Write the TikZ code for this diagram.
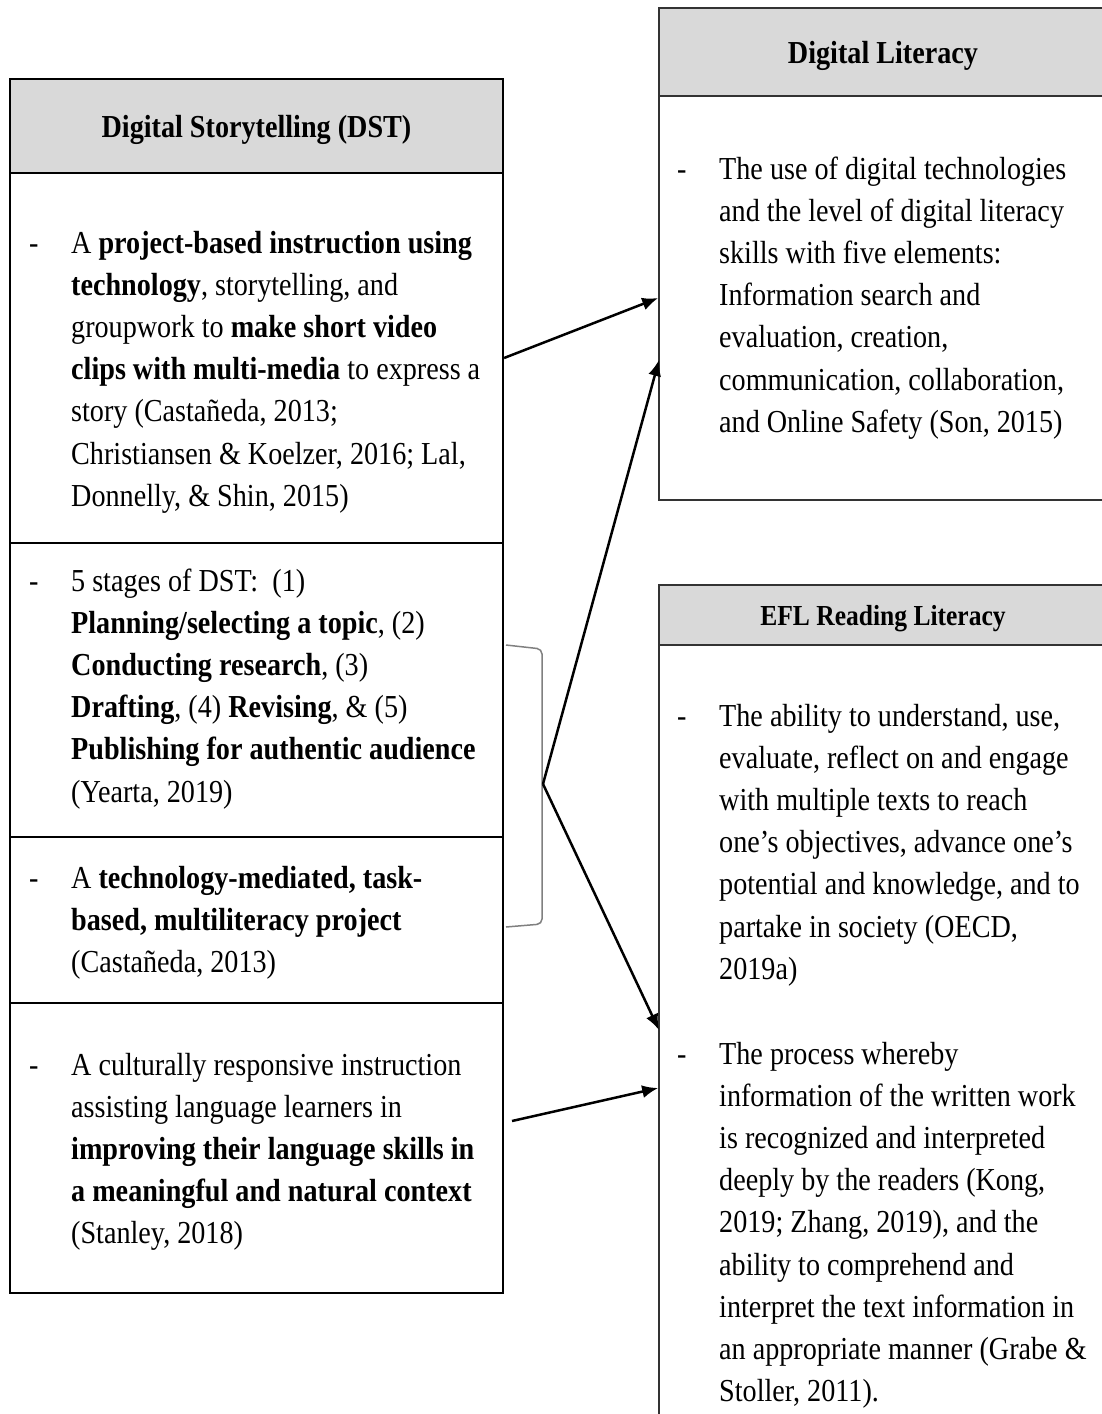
\documentclass[tikz,border=0pt]{standalone}
\usepackage{fontspec}
\setmainfont[FakeStretch=0.88]{Liberation Serif}
\usetikzlibrary{arrows.meta, calc}

\definecolor{headgray}{HTML}{D9D9D9}

\begin{document}
\begin{tikzpicture}[
      x=1pt, y=-1pt,
      body/.style={font=\fontsize{32}{42.2}\selectfont},
      lbox/.style={rectangle, draw=black, line width=2.2pt, inner sep=0pt,
        minimum width=493pt},
      rbox/.style={rectangle, draw=black!80, line width=1.6pt, inner sep=0pt,
        minimum width=448pt},
      head/.style={fill=headgray, text depth=0pt, font=\fontsize{32}{38}\selectfont\bfseries},
      txt/.style={body, anchor=base west, align=left, inner sep=0pt},
      dashmark/.style={body, anchor=base west, inner sep=0pt},
      arrow/.style={-{Latex[length=16pt, width=13pt]}, line width=2.5pt},
      brace/.style={draw=black!50, line width=1.5pt, rounded corners=5pt}
    ]
    \clip (0,0) rectangle (1102,1414);
    \fill[white] (0,0) rectangle (1102,1414);

    % left column
    \node[lbox, head, minimum height=94pt] (dst-head) at (256.5,126) {Digital Storytelling (DST)};
    \node[lbox, minimum height=370pt] (dst-a) at (256.5,358) {};
    \node[lbox, minimum height=294pt] (dst-b) at (256.5,690) {};
    \node[lbox, minimum height=166pt] (dst-c) at (256.5,920) {};
    \node[lbox, minimum height=290pt] (dst-d) at (256.5,1148) {};

    % text nodes are placed by the baseline of their last line
    \node[dashmark] (dst-a-dash) at (29,253) {-};
    \node[txt] (dst-a-txt) at (71,506.2) {A \textbf{project-based instruction using}\\
      \textbf{technology}, storytelling, and\\
      groupwork to \textbf{make short video}\\
      \textbf{clips with multi-media} to express a\\
      story (Castañeda, 2013;\\
      Christiansen \& Koelzer, 2016; Lal,\\
      Donnelly, \& Shin, 2015)};
    \node[dashmark] (dst-b-dash) at (29,591) {-};
    \node[txt] (dst-b-txt) at (71,802) {5 stages of DST:~~(1)\\
      \textbf{Planning/selecting a topic}, (2)\\
      \textbf{Conducting research}, (3)\\
      \textbf{Drafting}, (4) \textbf{Revising}, \& (5)\\
      \textbf{Publishing for authentic audience}\\
      (Yearta, 2019)};
    \node[dashmark] (dst-c-dash) at (29,888) {-};
    \node[txt] (dst-c-txt) at (71,972.4) {A \textbf{technology-mediated, task-}\\
      \textbf{based, multiliteracy project}\\
      (Castañeda, 2013)};
    \node[dashmark] (dst-d-dash) at (29,1075) {-};
    \node[txt] (dst-d-txt) at (71,1243.8) {A culturally responsive instruction\\
      assisting language learners in\\
      \textbf{improving their language skills in}\\
      \textbf{a meaningful and natural context}\\
      (Stanley, 2018)};

    % right column
    \node[rbox, head, minimum height=88pt] (dl-head) at (883,52) {Digital Literacy};
    \node[rbox, minimum height=404pt] (dl-body) at (883,298) {};
    \node[rbox, head, minimum height=60pt, font=\fontsize{29}{34}\selectfont\bfseries] (efl-head) at (883,615) {EFL Reading Literacy};
    \node[rbox, minimum height=886pt] (efl-body) at (883,1088) {};

    \node[dashmark] (dl-dash) at (677,179) {-};
    \node[txt] (dl-txt) at (719,432.2) {The use of digital technologies\\
      and the level of digital literacy\\
      skills with five elements:\\
      Information search and\\
      evaluation, creation,\\
      communication, collaboration,\\
      and Online Safety (Son, 2015)};
    \node[dashmark] (efl-a-dash) at (677,726) {-};
    \node[txt] (efl-a-txt) at (719,979.2) {The ability to understand, use,\\
      evaluate, reflect on and engage\\
      with multiple texts to reach\\
      one’s objectives, advance one’s\\
      potential and knowledge, and to\\
      partake in society (OECD,\\
      2019a)};
    \node[dashmark] (efl-b-dash) at (677,1064) {-};
    \node[txt] (efl-b-txt) at (719,1401.6) {The process whereby\\
      information of the written work\\
      is recognized and interpreted\\
      deeply by the readers (Kong,\\
      2019; Zhang, 2019), and the\\
      ability to comprehend and\\
      interpret the text information in\\
      an appropriate manner (Grabe \&\\
      Stoller, 2011).};

    % bracket over the two middle sections
    \coordinate (brk) at (543,784);
    \draw[brace] (506,645) -- (542,649) -- (542,924) -- (506,927);

    \coordinate (dl-in) at (659,360);
    \coordinate (efl-in) at (659,1030);
    \coordinate (dst-d-out) at (512,1121);

    \draw[arrow] (dst-a.east) -- (dl-body.west);
    \draw[arrow] (brk) -- (dl-in);
    \draw[arrow] (brk) -- (efl-in);
    \draw[arrow] (dst-d-out) -- (efl-body.west);
  \end{tikzpicture}
\end{document}
